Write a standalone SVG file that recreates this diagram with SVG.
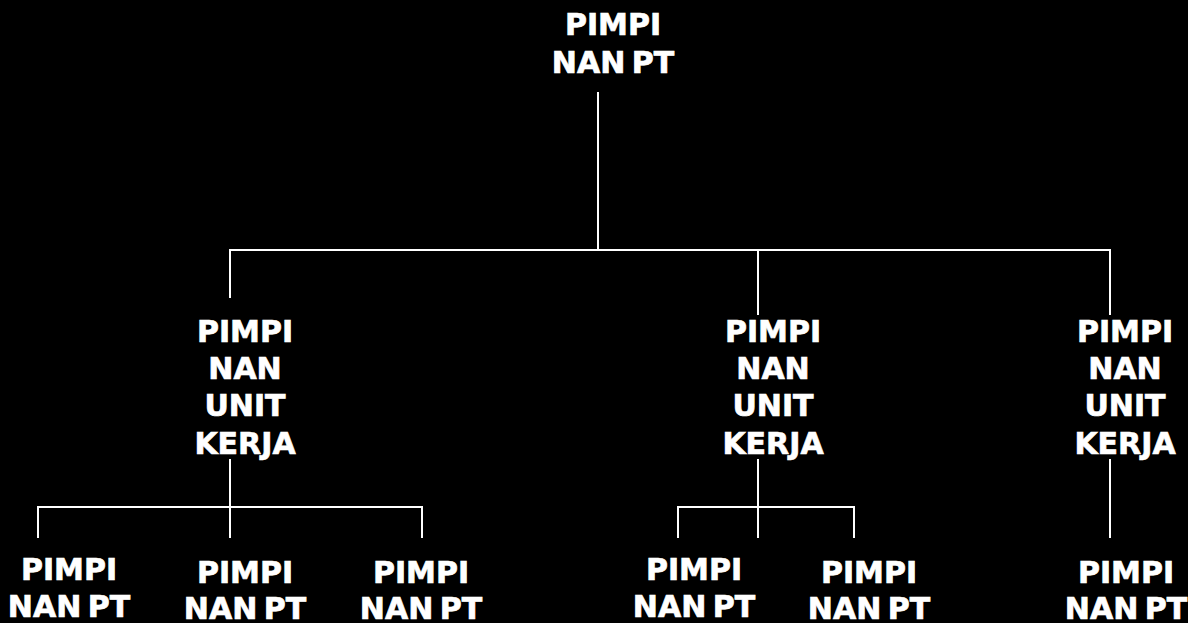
<svg xmlns="http://www.w3.org/2000/svg" width="1188" height="623" viewBox="0 0 1188 623">
<style>
.t{font-family:"DejaVu Sans",Verdana,sans-serif;font-weight:bold;font-size:30px;fill:#fff;stroke:#fff;stroke-width:0.7;text-anchor:middle;word-spacing:-4px}
.c line{stroke:#fff;stroke-width:2}
</style>
<rect width="1188" height="623" fill="#000"/>
<g class="c" id="connectors">
<line x1="598" y1="92" x2="598" y2="250"/>
<line x1="229" y1="250" x2="1111" y2="250"/>
<line x1="230" y1="250" x2="230" y2="298"/>
<line x1="758" y1="250" x2="758" y2="315"/>
<line x1="1110" y1="250" x2="1110" y2="315"/>
<line x1="230" y1="459" x2="230" y2="538"/>
<line x1="37" y1="507" x2="423" y2="507"/>
<line x1="38" y1="507" x2="38" y2="538"/>
<line x1="422" y1="507" x2="422" y2="538"/>
<line x1="758" y1="459" x2="758" y2="538"/>
<line x1="677" y1="507" x2="855" y2="507"/>
<line x1="678" y1="507" x2="678" y2="538"/>
<line x1="854" y1="507" x2="854" y2="538"/>
<line x1="1110" y1="459" x2="1110" y2="538"/>
</g>
<g id="top"><text class="t" x="613" y="35">PIMPI</text><text class="t" x="613" y="73">NAN PT</text></g>
<g id="unit1"><text class="t" x="245" y="342">PIMPI</text><text class="t" x="245" y="379">NAN</text><text class="t" x="245" y="416">UNIT</text><text class="t" x="245" y="454">KERJA</text></g>
<g id="unit2"><text class="t" x="773" y="342">PIMPI</text><text class="t" x="773" y="379">NAN</text><text class="t" x="773" y="416">UNIT</text><text class="t" x="773" y="454">KERJA</text></g>
<g id="unit3"><text class="t" x="1125" y="342">PIMPI</text><text class="t" x="1125" y="379">NAN</text><text class="t" x="1125" y="416">UNIT</text><text class="t" x="1125" y="454">KERJA</text></g>
<g id="pt1"><text class="t" x="69" y="580">PIMPI</text><text class="t" x="69" y="617">NAN PT</text></g>
<g id="pt2"><text class="t" x="245" y="583">PIMPI</text><text class="t" x="245" y="619">NAN PT</text></g>
<g id="pt3"><text class="t" x="421" y="583">PIMPI</text><text class="t" x="421" y="619">NAN PT</text></g>
<g id="pt4"><text class="t" x="694" y="580">PIMPI</text><text class="t" x="694" y="617">NAN PT</text></g>
<g id="pt5"><text class="t" x="869" y="583">PIMPI</text><text class="t" x="869" y="619">NAN PT</text></g>
<g id="pt6"><text class="t" x="1126" y="583">PIMPI</text><text class="t" x="1126" y="619">NAN PT</text></g>
</svg>
